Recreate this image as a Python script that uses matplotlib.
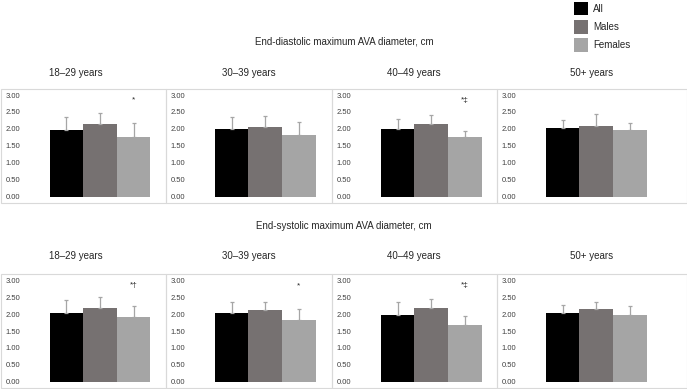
import matplotlib

matplotlib.use("Agg")

import matplotlib.pyplot as plt
from matplotlib.patches import Rectangle

# age groups and panel annotations
groups = ["18\u201329 years", "30\u201339 years", "40\u201349 years", "50+ years"]
series = ["All", "Males", "Females"]

# end-diastolic maximum AVA diameter (cm): mean and SD
dia_all = [1.96, 2.00, 2.00, 2.02]
dia_male = [2.14, 2.05, 2.14, 2.08]
dia_female = [1.77, 1.83, 1.76, 1.96]
dia_all_sd = [0.39, 0.36, 0.28, 0.24]
dia_male_sd = [0.34, 0.33, 0.27, 0.36]
dia_female_sd = [0.39, 0.37, 0.19, 0.21]
dia_marks = ["*", "", "*\u2021", ""]

# end-systolic maximum AVA diameter (cm): mean and SD
sys_all = [2.04, 2.04, 1.99, 2.04]
sys_male = [2.18, 2.12, 2.17, 2.15]
sys_female = [1.92, 1.83, 1.68, 1.98]
sys_all_sd = [0.38, 0.32, 0.37, 0.24]
sys_male_sd = [0.32, 0.25, 0.28, 0.20]
sys_female_sd = [0.33, 0.33, 0.26, 0.26]
sys_marks = ["*\u2020", "*", "*\u2021", ""]

yticks = [0.0, 0.5, 1.0, 1.5, 2.0, 2.5, 3.0]

COLORS = ["#000000", "#767171", "#a5a5a5"]
W, H = 687, 389
BOX_EDGE = "#d9d9d9"
TEXT = "#262626"

plt.rcParams.update({"font.family": ["Liberation Sans", "DejaVu Sans"]})

fig = plt.figure(figsize=(W / 100, H / 100), dpi=100)


def fx(px):
    return px / W


def fy(py):
    return 1 - py / H


panel_left = [0.5, 165.7, 331.7, 496.7]
panel_right = [165.7, 331.7, 496.7, 686.5]


def draw_row(means, sds, marks, box_top, box_bottom, y0, y3, title, title_y, label_y, label_x):
    fig.text(fx(344), fy(title_y), title, ha="center", va="center", fontsize=7, color=TEXT)
    for i in range(4):
        left, right = panel_left[i], panel_right[i]
        fig.patches.append(
            Rectangle(
                (fx(left), fy(box_bottom)),
                fx(right - left),
                (box_bottom - box_top) / H,
                transform=fig.transFigure,
                fill=False,
                edgecolor=BOX_EDGE,
                linewidth=0.8,
            )
        )
        fig.text(fx(label_x[i]), fy(label_y), groups[i], ha="center", va="center", fontsize=7, color=TEXT)

        ax_left = left + 23
        ax_right = left + 163
        ax = fig.add_axes([fx(ax_left), fy(y0), fx(ax_right - ax_left), (y0 - y3) / H])
        # bars at -1, 0, 1 (1 unit = ~33.6 px), centre 76.5 px right of axes left
        unit = 33.6
        lo = -76.5 / unit
        hi = lo + (ax_right - ax_left) / unit
        ax.set_xlim(lo, hi)
        ax.set_ylim(0, 3)
        for k in range(3):
            ax.bar(k - 1, means[k][i], width=1.0, color=COLORS[k], linewidth=0, zorder=2)
            ax.errorbar(
                k - 1,
                means[k][i],
                yerr=[[0], [sds[k][i]]],
                fmt="none",
                ecolor="#a6a6a6",
                elinewidth=0.9,
                capsize=1.5,
                capthick=0.9,
                zorder=3,
            )
        if marks[i]:
            ax.text(1, 2.85, marks[i], ha="center", va="center", fontsize=6, color=TEXT)
        ax.set_yticks(yticks)
        ax.set_yticklabels([f"{t:.2f}" for t in yticks], fontsize=5.5, color="#404040")
        ax.tick_params(axis="y", length=0, pad=2.5)
        ax.set_xticks([])
        for s in ax.spines.values():
            s.set_visible(False)
        ax.patch.set_alpha(0)


draw_row(
    [dia_all, dia_male, dia_female],
    [dia_all_sd, dia_male_sd, dia_female_sd],
    dia_marks,
    89.3, 202.5, 196.7, 95.0,
    "End-diastolic maximum AVA diameter, cm", 41,
    73, [76, 249, 414, 592],
)
draw_row(
    [sys_all, sys_male, sys_female],
    [sys_all_sd, sys_male_sd, sys_female_sd],
    sys_marks,
    274.3, 387.5, 381.5, 280.5,
    "End-systolic maximum AVA diameter, cm", 226,
    256, [76, 249, 414, 592],
)

# legend
for k, name in enumerate(series):
    top = [1.7, 20.0, 38.3][k]
    fig.patches.append(
        Rectangle((fx(573.5), fy(top + 13.5)), fx(14), 13.5 / H, transform=fig.transFigure, color=COLORS[k], linewidth=0)
    )
    fig.text(fx(593), fy(top + 6.8), name, ha="left", va="center", fontsize=7, color=TEXT)

fig.savefig("out.png", dpi=100)
